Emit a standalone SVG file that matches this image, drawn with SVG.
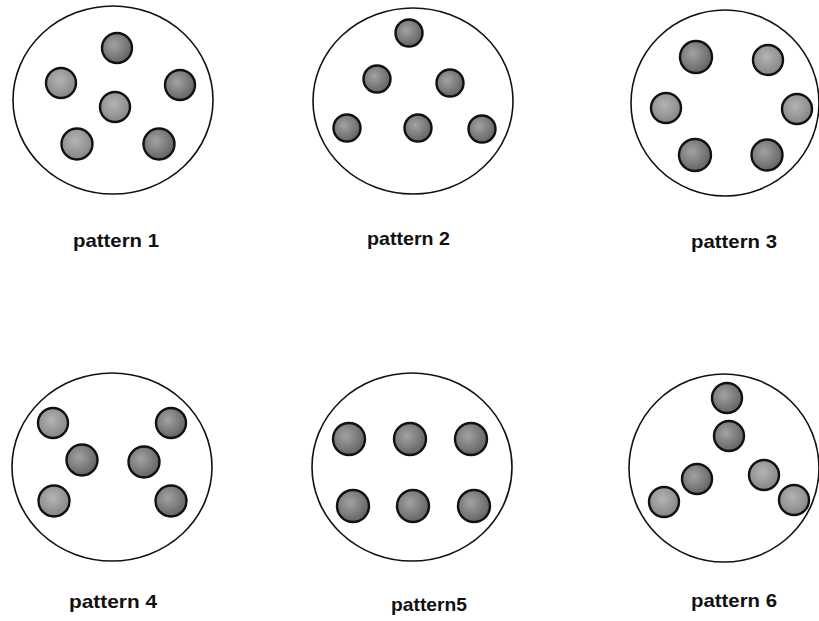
<svg xmlns="http://www.w3.org/2000/svg" width="819" height="621" viewBox="0 0 819 621">
<defs>
<radialGradient id="g1" cx="45%" cy="40%" r="60%">
<stop offset="0" stop-color="#b4b4b4"/>
<stop offset="1" stop-color="#858585"/>
</radialGradient>
<radialGradient id="g2" cx="40%" cy="40%" r="65%">
<stop offset="0" stop-color="#a2a2a2"/>
<stop offset="1" stop-color="#606060"/>
</radialGradient>
</defs>
<style>
.big{fill:none;stroke:#111;stroke-width:1.6}
.d{fill:url(#g1);stroke:#111;stroke-width:2.4}
.k{fill:url(#g2);stroke:#111;stroke-width:2.4}
.lbl{font-family:"Liberation Sans",Arial,sans-serif;font-weight:bold;font-size:19px;fill:#111}
</style>
<rect width="819" height="621" fill="#fff"/>
<g id="pattern1">
<ellipse class="big" cx="113" cy="100" rx="100" ry="94"/>
<circle class="k" cx="117" cy="48" r="15"/>
<circle class="d" cx="61" cy="83" r="15"/>
<circle class="k" cx="180" cy="85" r="15"/>
<circle class="d" cx="115" cy="107" r="15"/>
<circle class="d" cx="77" cy="144" r="15.5"/>
<circle class="k" cx="159" cy="144" r="15.5"/>
<text class="lbl" x="73" y="247" textLength="86" lengthAdjust="spacingAndGlyphs">pattern 1</text>
</g>
<g id="pattern2">
<ellipse class="big" cx="413" cy="101" rx="100" ry="93"/>
<circle class="k" cx="409" cy="33" r="13.5"/>
<circle class="k" cx="377" cy="79" r="13.5"/>
<circle class="k" cx="450" cy="83" r="13.5"/>
<circle class="k" cx="347" cy="128" r="13.5"/>
<circle class="k" cx="418" cy="128" r="13.5"/>
<circle class="k" cx="482" cy="129" r="13.5"/>
<text class="lbl" x="367" y="245" textLength="83" lengthAdjust="spacingAndGlyphs">pattern 2</text>
</g>
<g id="pattern3">
<ellipse class="big" cx="725" cy="103" rx="94" ry="93"/>
<circle class="k" cx="696" cy="57" r="16"/>
<circle class="d" cx="768" cy="60" r="15"/>
<circle class="d" cx="666" cy="108" r="15"/>
<circle class="d" cx="797" cy="109" r="15"/>
<circle class="k" cx="695" cy="155" r="16"/>
<circle class="k" cx="767" cy="155" r="15.5"/>
<text class="lbl" x="691" y="248" textLength="86" lengthAdjust="spacingAndGlyphs">pattern 3</text>
</g>
<g id="pattern4">
<ellipse class="big" cx="112" cy="467" rx="100" ry="94"/>
<circle class="d" cx="53" cy="423" r="15"/>
<circle class="k" cx="171" cy="423" r="15"/>
<circle class="k" cx="82" cy="460" r="15.5"/>
<circle class="k" cx="144" cy="462" r="15.5"/>
<circle class="d" cx="54" cy="501" r="15.5"/>
<circle class="k" cx="171" cy="501" r="15.5"/>
<text class="lbl" x="69" y="608" textLength="88" lengthAdjust="spacingAndGlyphs">pattern 4</text>
</g>
<g id="pattern5">
<ellipse class="big" cx="412" cy="467" rx="100" ry="94"/>
<circle class="k" cx="349" cy="439" r="16"/>
<circle class="k" cx="410" cy="439" r="16"/>
<circle class="k" cx="471" cy="439" r="16"/>
<circle class="k" cx="353" cy="506" r="16"/>
<circle class="k" cx="413" cy="506" r="16"/>
<circle class="k" cx="474" cy="506" r="16"/>
<text class="lbl" x="391" y="611" textLength="76" lengthAdjust="spacingAndGlyphs">pattern5</text>
</g>
<g id="pattern6">
<ellipse class="big" cx="724" cy="468" rx="95" ry="94"/>
<circle class="k" cx="727" cy="398" r="15"/>
<circle class="k" cx="729" cy="436" r="15"/>
<circle class="k" cx="697" cy="479" r="15"/>
<circle class="d" cx="764" cy="475" r="15"/>
<circle class="d" cx="664" cy="502" r="15"/>
<circle class="d" cx="794" cy="500" r="15"/>
<text class="lbl" x="691" y="607" textLength="86" lengthAdjust="spacingAndGlyphs">pattern 6</text>
</g>
<g id="connectors"/>
</svg>
